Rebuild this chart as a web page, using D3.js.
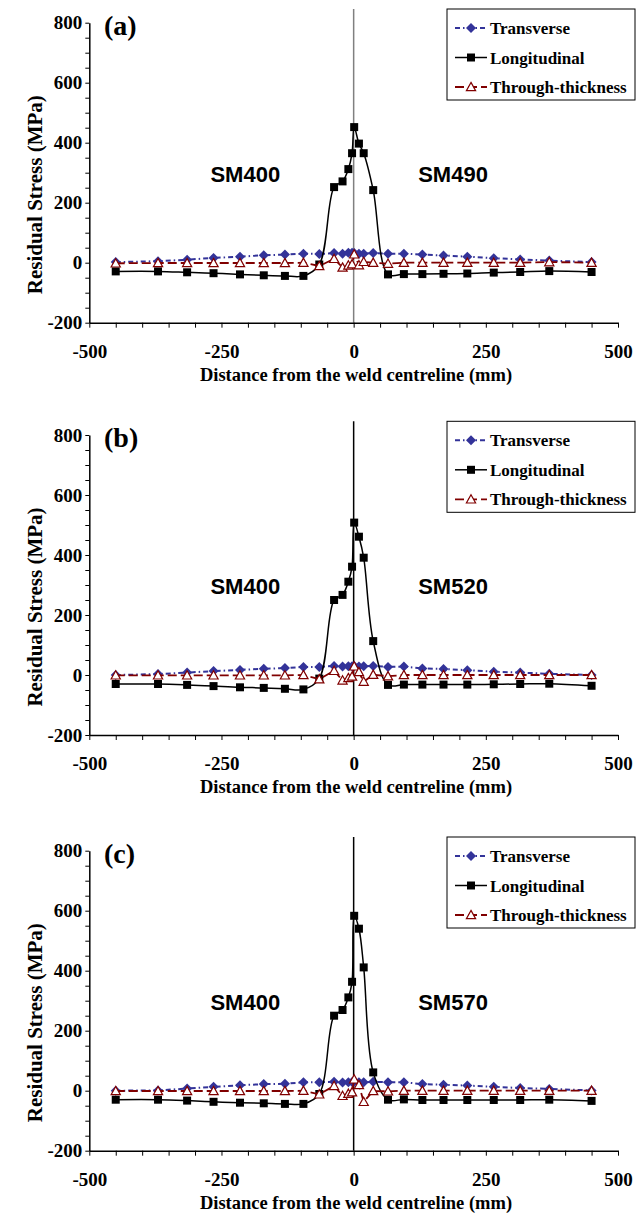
<!DOCTYPE html>
<html><head><meta charset="utf-8">
<script src="https://cdn.jsdelivr.net/npm/d3@7"></script>
<style>body{margin:0;background:#fff}</style>
</head><body><svg id="chart" width="642" height="1216"></svg>
<script>
// ---- data ----
const positions = [-450,-370,-315,-265,-215,-170,-130,-95,-65,-37,-21,-10,-3,1,10,19,37,65,95,130,170,215,265,315,370,450];

const transverseA   = [2,5,10,16,20,25,27,30,29,32,30,33,33,32,30,30,32,30,30,27,24,20,15,11,7,2];
const longitudinalA = [-29,-29,-32,-35,-39,-42,-44,-44,-6,252,271,312,365,452,397,365,242,-39,-38,-38,-37,-36,-33,-31,-28,-31];
const throughA      = [-2,-1,-1,-1,-1,-1,-1,0,-11,13,-16,-9,-5,28,-8,3,0,-3,0,0,0,0,0,0,2,0];

const transverseB   = [0,3,8,13,17,21,23,27,27,30,28,29,29,30,28,29,30,27,28,22,20,16,11,8,4,0];
const longitudinalB = [-30,-30,-33,-37,-41,-43,-46,-48,-12,250,267,311,361,508,461,391,113,-33,-32,-32,-32,-32,-31,-30,-29,-36];
const throughB      = [-1,-1,-1,-1,-1,-1,-1,0,-14,14,-18,-10,-5,29,10,-22,1,-4,0,0,0,0,0,0,0,0];

const transverseC   = [0,1,7,13,18,22,23,28,28,30,27,28,29,30,28,28,30,28,28,22,20,17,13,9,6,1];
const longitudinalC = [-30,-30,-33,-37,-40,-42,-44,-44,-11,250,269,311,363,583,540,411,61,-30,-29,-31,-31,-31,-31,-31,-30,-34];
const throughC      = [-1,-1,-1,-1,-1,-1,-1,0,-12,16,-17,-10,-5,38,19,-37,-1,-2,0,0,0,0,0,0,0,0];

const panelLabels = ["(a)","(b)","(c)"];
const leftGrade = "SM400";
const rightGrades = ["SM490","SM520","SM570"];
const seriesNames = ["Transverse","Longitudinal","Through-thickness"];
const xMajorTicks = [-500,-250,0,250,500];
const yMajorTicks = [-200,0,200,400,600,800];
const xTitle = "Distance from the weld centreline (mm)";
const yTitle = "Residual Stress (MPa)";

// ---- layout ----
const panels = [
  {trans: transverseA, long: longitudinalA, thru: throughA, top: 22.7, vcol: "#808080"},
  {trans: transverseB, long: longitudinalB, thru: throughB, top: 435, vcol: "#000"},
  {trans: transverseC, long: longitudinalC, thru: throughC, top: 850.7, vcol: "#000"}
];
const svg = d3.select("#chart");
const x = d3.scaleLinear().domain([-500,500]).range([89.3,618]);
const serif = "'Liberation Serif','Times New Roman',serif";
const sans = "'Liberation Sans',Arial,sans-serif";
const BLUE = "#333399", RED = "#800000";

const diamond = r => `M0,${-r}L${r},0L0,${r}L${-r},0Z`;
const square = r => `M${-r},${-r}H${r}V${r}H${-r}Z`;
const triangle = r => `M0,${-r}L${r},${r*0.8}L${-r},${r*0.8}Z`;

const styles = [
  {color: BLUE, width: 2, dash: "5,3,1.5,3", marker: diamond(5), fill: BLUE, stroke: BLUE, sw: 0, curve: d3.curveLinear},
  {color: "#000", width: 1.5, dash: null, marker: square(4), fill: "#000", stroke: "#000", sw: 0, curve: d3.curveCatmullRom.alpha(0.5)},
  {color: RED, width: 1.8, dash: "9,4", marker: triangle(4.6), fill: "#fff", stroke: RED, sw: 1.2, curve: d3.curveLinear}
];

panels.forEach((p, i) => {
  const y = d3.scaleLinear().domain([-200,800]).range([p.top + 300, p.top]);
  const g = svg.append("g");

  // vertical weld centre line
  g.append("line").attr("x1", x(0)).attr("x2", x(0))
    .attr("y1", p.top - 13.7).attr("y2", y(-200))
    .attr("stroke", p.vcol).attr("stroke-width", 1.5);

  // x axis
  const xa = g.append("g").attr("transform", `translate(0,${y(-200)})`)
    .call(d3.axisBottom(x).tickValues(d3.range(-500, 501, 50)).tickSize(5).tickSizeOuter(0)
      .tickFormat(d => xMajorTicks.includes(d) ? d : ""));
  xa.select(".domain").attr("stroke", "#000").attr("stroke-width", 1.5);
  xa.selectAll(".tick line").attr("stroke", "#000").attr("stroke-width", 1);
  xa.selectAll(".tick text").attr("y", 22).attr("font-family", serif).attr("font-weight", "bold")
    .attr("font-size", 19).attr("fill", "#000");

  // y axis
  const ya = g.append("g").attr("transform", `translate(${x(-500)},0)`)
    .call(d3.axisLeft(y).tickValues(d3.range(-200, 801, 50)).tickSize(4).tickSizeOuter(0)
      .tickFormat(d => yMajorTicks.includes(d) ? d : ""));
  ya.select(".domain").attr("stroke", "#000").attr("stroke-width", 1.5);
  ya.selectAll(".tick line").attr("stroke", "#000").attr("stroke-width", 1);
  ya.selectAll(".tick text").attr("x", -7).attr("font-family", serif).attr("font-weight", "bold")
    .attr("font-size", 19).attr("fill", "#000");

  // titles
  g.append("text").attr("x", 356).attr("y", y(-200) + 58).attr("text-anchor", "middle")
    .attr("font-family", serif).attr("font-weight", "bold").attr("font-size", 18.5).text(xTitle);
  g.append("text").attr("transform", `translate(35,${p.top + 172}) rotate(-90)`)
    .attr("text-anchor", "middle").attr("dominant-baseline", "central")
    .attr("font-family", serif).attr("font-weight", "bold").attr("font-size", 21).text(yTitle);

  // panel label
  g.append("text").attr("x", 104).attr("y", p.top + 12).attr("font-family", serif)
    .attr("font-weight", "bold").attr("font-size", 28).text(panelLabels[i]);

  // grade labels
  g.append("text").attr("x", x(-205)).attr("y", y(297) + 8).attr("text-anchor", "middle")
    .attr("font-family", sans).attr("font-weight", "bold").attr("font-size", 22).text(leftGrade);
  g.append("text").attr("x", x(188)).attr("y", y(297) + 8).attr("text-anchor", "middle")
    .attr("font-family", sans).attr("font-weight", "bold").attr("font-size", 22).text(rightGrades[i]);

  // series
  const sets = [p.trans, p.long, p.thru];
  sets.forEach((vals, s) => {
    const st = styles[s];
    const pts = positions.map((xv, k) => [xv, vals[k]]);
    const line = d3.line().x(d => x(d[0])).y(d => y(d[1])).curve(st.curve);
    g.append("path").attr("d", line(pts)).attr("fill", "none")
      .attr("stroke", st.color).attr("stroke-width", st.width)
      .attr("stroke-dasharray", st.dash);
    g.selectAll(null).data(pts).join("path")
      .attr("transform", d => `translate(${x(d[0])},${y(d[1])})`)
      .attr("d", st.marker).attr("fill", st.fill)
      .attr("stroke", st.sw ? st.stroke : "none").attr("stroke-width", st.sw);
  });

  // legend
  const lg = g.append("g").attr("transform", `translate(447,${p.top - 13.7})`);
  lg.append("rect").attr("width", 188).attr("height", 91).attr("fill", "#fff")
    .attr("stroke", "#000").attr("stroke-width", 1);
  seriesNames.forEach((name, s) => {
    const st = styles[s];
    const cy = 19 + s * 29.5;
    lg.append("line").attr("x1", 8).attr("x2", 40).attr("y1", cy).attr("y2", cy)
      .attr("stroke", st.color).attr("stroke-width", st.width).attr("stroke-dasharray", st.dash);
    lg.append("path").attr("transform", `translate(24,${cy})`).attr("d", st.marker)
      .attr("fill", st.fill).attr("stroke", st.sw ? st.stroke : "none").attr("stroke-width", st.sw);
    lg.append("text").attr("x", 43).attr("y", cy + 6).attr("font-family", serif)
      .attr("font-weight", "bold").attr("font-size", 17).text(name);
  });
});
</script>
</body></html>
